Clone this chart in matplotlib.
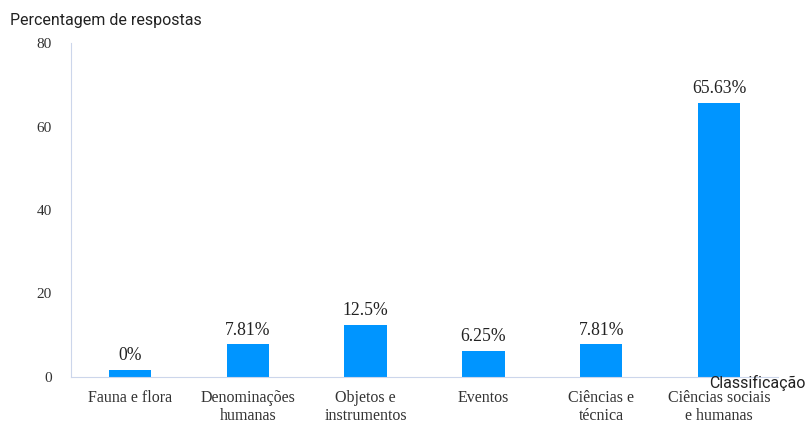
import numpy as np
import matplotlib.pyplot as plt

categories = ["Fauna e flora", "Denominações\nhumanas", "Objetos e\ninstrumentos",
              "Eventos", "Ciências e\ntécnica", "Ciências sociais\ne humanas"]
values = [0, 7.81, 12.5, 6.25, 7.81, 65.63]
labels = ["0%", "7.81%", "12.5%", "6.25%", "7.81%", "65.63%"]
yticks = [0, 20, 40, 60, 80]

bar_color = "#0095ff"
axis_color = "#ccd6eb"
serif = "Liberation Serif"
sans = "Roboto"

fig = plt.figure(figsize=(8.06, 4.23), dpi=100)
ax = fig.add_axes([71 / 806, 1 - 377 / 423, 707 / 806, 334 / 423])

x = np.arange(len(categories))
ax.set_xlim(-0.5, len(categories) - 0.5)
ax.set_ylim(0, 80)

# keep zero-valued bars visible with a small minimum height (pixels)
px_per_unit = 334 / 80
min_h = 7 / px_per_unit
heights = [max(v, min_h) for v in values]
ax.bar(x, heights, width=0.36, color=bar_color, zorder=2)

for xi, h, lab in zip(x, heights, labels):
    ax.annotate(lab, (xi, h), xytext=(0, 4), textcoords="offset points",
                ha="center", va="bottom", fontsize=12.7, family=serif, color="#222222")

for s in ["top", "right"]:
    ax.spines[s].set_visible(False)
ax.spines["left"].set_color(axis_color)
ax.spines["bottom"].set_color(axis_color)

ax.set_yticks(yticks)
ax.set_yticklabels([str(t) for t in yticks], family=serif, fontsize=11, color="#333333")
ax.tick_params(axis="y", length=0, pad=14)
ax.set_xticks(x)
ax.set_xticklabels(categories, family=serif, fontsize=11.5, color="#333333", linespacing=1.25)
ax.tick_params(axis="x", length=0, pad=9)

fig.text(10 / 806, 1 - 20 / 423, "Percentagem de respostas", family=sans,
         fontsize=11.5, color="#222222", va="center", ha="left")
fig.text(709 / 806, 1 - 383 / 423, "Classificação", family=sans,
         fontsize=11.5, color="#222222", va="center", ha="left")

fig.savefig("out.png", dpi=100)
